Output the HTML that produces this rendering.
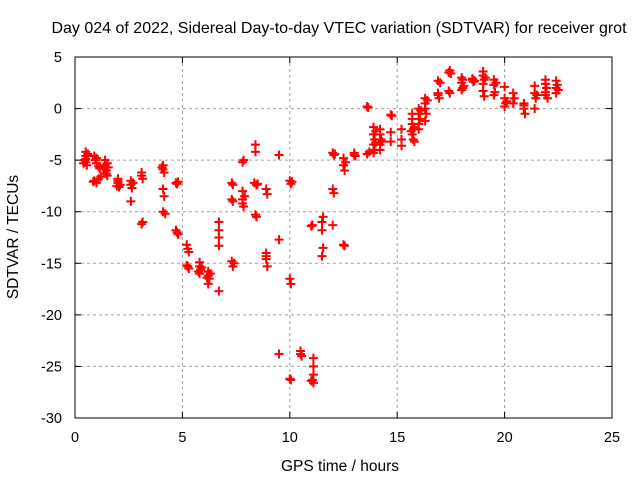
<!DOCTYPE html>
<html><head><meta charset="utf-8"><style>
body{margin:0;background:#fff;}
svg{display:block;font-family:"Liberation Sans",sans-serif;}
</style></head><body>
<svg id="chart" width="640" height="480">
<text x="339" y="33" font-size="16" text-anchor="middle">Day 024 of 2022, Sidereal Day-to-day VTEC variation (SDTVAR) for receiver grot</text>
<g id="grid"></g>
<g id="axes"></g>
<g id="points"></g>
<text x="340" y="471" font-size="15.5" text-anchor="middle">GPS time / hours</text>
<text transform="translate(18,237) rotate(-90)" font-size="15.5" text-anchor="middle">SDTVAR / TECUs</text>
</svg>
<script>
const xTicks=[0,5,10,15,20,25];
const yTicks=[5,0,-5,-10,-15,-20,-25,-30];
const pts=[
[0.5,-4.2],[0.5,-4.6],[0.5,-4.9],[0.5,-5.2],[0.55,-5.5],[0.45,-5.0],[0.6,-4.4],[0.4,-5.3],
[0.9,-4.6],[0.95,-5.0],[1.0,-5.3],[0.9,-7.0],[1.0,-7.2],[1.1,-6.8],[1.2,-6.6],[1.1,-5.6],[1.0,-4.8],[1.15,-5.8],[0.85,-7.1],
[1.4,-5.0],[1.4,-5.5],[1.45,-6.0],[1.5,-6.5],[1.35,-5.8],[1.5,-5.3],[1.45,-6.3],[1.55,-5.7],
[2.0,-6.8],[2.0,-7.2],[2.05,-7.6],[2.0,-7.0],[2.1,-7.4],[1.95,-7.5],
[2.6,-7.0],[2.6,-7.4],[2.65,-7.7],[2.6,-9.0],[2.7,-7.2],
[3.1,-6.2],[3.1,-6.5],[3.15,-6.8],[3.1,-11.2],[3.15,-11.0],
[4.1,-5.5],[4.1,-5.9],[4.15,-6.2],[4.1,-7.8],[4.15,-8.5],[4.1,-10.0],[4.2,-10.2],[4.05,-5.7],
[4.7,-7.2],[4.75,-7.3],[4.7,-11.8],[4.8,-12.2],[4.8,-7.1],[4.75,-12.0],
[5.2,-13.2],[5.25,-13.6],[5.3,-13.9],[5.2,-15.2],[5.3,-15.5],[5.25,-15.3],
[5.8,-14.9],[5.8,-15.3],[5.85,-15.6],[5.8,-16.0],[5.9,-15.4],[5.75,-15.8],
[6.2,-15.8],[6.2,-16.2],[6.25,-16.5],[6.2,-17.0],[6.3,-16.0],[6.15,-16.4],
[6.7,-11.0],[6.7,-11.8],[6.7,-12.5],[6.7,-13.3],[6.7,-17.7],
[7.3,-7.2],[7.35,-7.4],[7.3,-8.8],[7.35,-9.0],[7.3,-14.8],[7.35,-15.3],[7.4,-15.0],
[7.8,-5.2],[7.85,-5.0],[7.8,-8.0],[7.8,-8.8],[7.85,-9.5],[7.8,-9.2],[7.9,-8.5],
[8.4,-3.5],[8.4,-4.2],[8.35,-7.2],[8.45,-7.4],[8.4,-10.3],[8.45,-10.5],[8.5,-7.3],
[8.9,-7.8],[8.95,-8.3],[8.9,-14.0],[8.9,-14.6],[8.95,-15.3],[8.9,-14.3],
[9.5,-4.5],[9.5,-12.7],[9.5,-23.8],
[10.0,-7.0],[10.05,-7.3],[10.0,-16.5],[10.05,-17.0],[10.0,-26.2],[10.05,-26.3],[10.1,-7.1],
[10.5,-23.5],[10.55,-24.0],[10.5,-23.8],
[11.05,-11.3],[11.0,-11.4],
[11.1,-24.2],[11.1,-25.0],[11.1,-25.8],[11.05,-26.3],[11.1,-26.6],[11.0,-26.4],
[11.55,-10.5],[11.5,-11.0],[11.5,-11.8],[11.55,-13.5],[11.5,-14.3],
[12.0,-4.3],[12.05,-4.5],[12.0,-7.8],[12.05,-8.2],[12.0,-11.3],[12.1,-4.4],
[12.5,-4.8],[12.5,-5.5],[12.55,-6.0],[12.5,-13.2],[12.55,-13.3],[12.6,-5.2],
[13.0,-4.3],[13.05,-4.6],[13.0,-4.5],
[13.6,0.2],[13.65,0.1],[13.6,-4.4],[13.7,-4.2],
[13.9,-1.8],[13.9,-2.5],[13.95,-3.0],[13.9,-3.5],[13.95,-4.0],[13.9,-4.3],[14.0,-2.2],[14.0,-3.3],
[14.2,-2.0],[14.2,-2.5],[14.25,-3.0],[14.2,-3.5],[14.2,-4.0],[14.3,-3.2],
[14.7,-0.6],[14.75,-0.7],[14.7,-2.3],[14.7,-3.2],
[15.2,-2.0],[15.2,-3.0],[15.2,-3.6],
[15.7,-0.5],[15.7,-1.0],[15.7,-1.5],[15.75,-2.0],[15.7,-2.5],[15.75,-3.0],[15.8,-3.2],[15.8,-1.8],[15.65,-2.2],
[16.0,-0.5],[16.0,0.0],[16.05,-1.0],[16.0,-1.5],[16.0,-2.0],[16.1,-0.2],
[16.3,0.5],[16.3,1.0],[16.35,-0.5],[16.3,-1.2],[16.3,0.0],[16.4,0.8],
[16.9,2.7],[16.9,1.5],[16.95,1.0],[16.9,1.3],[17.0,2.5],
[17.4,3.5],[17.45,3.7],[17.4,1.7],[17.45,1.5],[17.5,3.4],
[18.0,3.0],[18.0,2.5],[18.05,2.0],[18.0,1.8],[18.05,2.8],[18.1,2.2],
[18.5,2.9],[18.55,2.6],[18.5,2.8],[18.6,2.7],
[19.0,3.6],[19.0,3.2],[19.05,2.8],[19.0,2.4],[19.0,1.7],[19.05,1.2],[19.1,3.0],
[19.5,2.8],[19.5,2.3],[19.55,1.6],[19.5,1.3],[19.6,2.5],
[20.0,2.1],[20.0,1.0],[20.05,0.5],[20.0,0.2],[20.1,0.7],
[20.4,1.5],[20.45,1.0],[20.4,0.5],
[20.9,0.5],[20.9,0.0],[20.95,-0.5],[20.9,0.3],
[21.4,2.2],[21.4,1.5],[21.45,1.0],[21.4,0.0],[21.5,1.3],
[21.9,2.8],[21.9,2.4],[21.95,2.0],[21.9,1.3],[21.9,1.6],[22.0,1.0],
[22.4,2.7],[22.45,2.3],[22.4,2.0],[22.4,1.5],[22.5,1.8]
];
const L=75,R=612,T=57,B=418;
const X=v=>L+(v-0)/25*(R-L);
const Y=v=>T+(5-v)/35*(B-T);
const ns="http://www.w3.org/2000/svg";
const g=document.getElementById('grid'),a=document.getElementById('axes'),p=document.getElementById('points');
function mk(tag,attrs,parent){const e=document.createElementNS(ns,tag);for(const k in attrs)e.setAttribute(k,attrs[k]);parent.appendChild(e);return e;}
xTicks.forEach(t=>{const x=X(t);
 if(t>0&&t<25){const l=mk('line',{x1:x,x2:x,y1:T,y2:B,stroke:'#a0a0a0','stroke-dasharray':'3,3'},g);}
 mk('line',{x1:x,x2:x,y1:B,y2:B-6,stroke:'#000'},a);mk('line',{x1:x,x2:x,y1:T,y2:T+6,stroke:'#000'},a);
 const tx=mk('text',{x:x,y:B+24,'font-size':14.5,'text-anchor':'middle'},a);tx.textContent=t;
 });
yTicks.forEach(t=>{const y=Y(t);
 if(t<5&&t>-30){const l=mk('line',{x1:L,x2:R,y1:y,y2:y,stroke:'#a0a0a0','stroke-dasharray':'3,3'},g);}
 mk('line',{x1:L,x2:L+6,y1:y,y2:y,stroke:'#000'},a);mk('line',{x1:R,x2:R-6,y1:y,y2:y,stroke:'#000'},a);
 const tx=mk('text',{x:L-13,y:y+5,'font-size':14.5,'text-anchor':'end'},a);tx.textContent=t;
 });
mk('rect',{x:L,y:T,width:R-L,height:B-T,fill:'none',stroke:'#000'},a);
pts.forEach(d=>{const x=X(d[0]),y=Y(d[1]);
 const e=mk('path',{d:`M${x-4.5},${y}h9M${x},${y-4.5}v9`,stroke:'#ff0000','stroke-width':2,fill:'none'},p);
 
 });
</script>
</body></html>
